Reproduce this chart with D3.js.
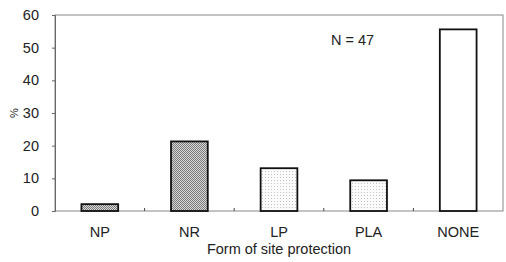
<!DOCTYPE html>
<html>
<head>
<meta charset="UTF-8">
<script src="https://d3js.org/d3.v7.min.js"></script>
<style>
  body { margin: 0; background: #fff; }
  text { font-family: "Liberation Sans", Arial, sans-serif; fill: #222; }
</style>
</head>
<body>
<div id="chart"></div>
<script>
var categories = ["NP", "NR", "LP", "PLA", "NONE"];
var values = [2.1, 21.3, 13.1, 9.4, 55.6];
var fills = ["dark", "dark", "light", "light", "white"];
var yTicks = [0, 10, 20, 30, 40, 50, 60];

var width = 506, height = 262;
var margin = {top: 15, right: 3, bottom: 51, left: 55};
var w = width - margin.left - margin.right,
    h = height - margin.top - margin.bottom;

var svg = d3.select("#chart").append("svg")
    .attr("width", width)
    .attr("height", height);

// fill patterns: checkerboard for dark, sparse dots for light
var defs = svg.append("defs");
var dark = defs.append("pattern").attr("id", "dark")
    .attr("patternUnits", "userSpaceOnUse").attr("width", 2).attr("height", 2);
dark.append("rect").attr("width", 2).attr("height", 2).attr("fill", "#d8d8d8");
dark.append("rect").attr("width", 1).attr("height", 1).attr("fill", "#7a7a7a");
dark.append("rect").attr("x", 1).attr("y", 1).attr("width", 1).attr("height", 1).attr("fill", "#7a7a7a");

var light = defs.append("pattern").attr("id", "light")
    .attr("patternUnits", "userSpaceOnUse").attr("width", 3).attr("height", 3);
light.append("rect").attr("width", 3).attr("height", 3).attr("fill", "#fbfbfb");
light.append("rect").attr("width", 1).attr("height", 1).attr("fill", "#c4c4c4");

var g = svg.append("g").attr("transform", "translate(" + margin.left + "," + margin.top + ")");

var x = d3.scaleBand().domain(categories).range([0, w]).paddingInner(0.59).paddingOuter(0.295);
var xb = d3.scaleBand().domain(categories).range([0, w]);
var y = d3.scaleLinear().domain([0, 60]).range([h, 0]);

// frame
g.append("rect").attr("width", w).attr("height", h)
    .attr("fill", "none").attr("stroke", "#888").attr("stroke-width", 1);

// y axis
var yAxis = g.append("g").call(d3.axisLeft(y).tickValues(yTicks).tickSize(3).tickPadding(13));
yAxis.select(".domain").attr("stroke", "#666");
yAxis.selectAll(".tick line").attr("stroke", "#666");
yAxis.selectAll("text").style("font-size", "14.5px").attr("fill", "#222");

// x category ticks between bands, pointing inward
g.selectAll(".xtick").data(categories.slice(1)).enter().append("line")
    .attr("x1", d => xb(d)).attr("x2", d => xb(d))
    .attr("y1", h).attr("y2", h - 3)
    .attr("stroke", "#444");

// bars
g.selectAll(".bar").data(values).enter().append("rect")
    .attr("x", (d, i) => x(categories[i]))
    .attr("y", d => y(d))
    .attr("width", x.bandwidth())
    .attr("height", d => h - y(d))
    .attr("fill", (d, i) => fills[i] == "white" ? "#fff" : "url(#" + fills[i] + ")")
    .attr("stroke", "#111")
    .attr("stroke-width", 1.8);

// category labels
g.selectAll(".cat").data(categories).enter().append("text")
    .attr("x", d => xb(d) + xb.bandwidth() / 2)
    .attr("y", h + 26)
    .attr("text-anchor", "middle")
    .style("font-size", "14.5px")
    .text(d => d);

// axis titles
svg.append("text")
    .attr("x", 279)
    .attr("y", 254)
    .attr("text-anchor", "middle")
    .style("font-size", "14.5px")
    .text("Form of site protection");

svg.append("text")
    .attr("transform", "translate(18,113) rotate(-90)")
    .attr("text-anchor", "middle")
    .style("font-size", "11px")
    .text("%");

svg.append("text")
    .attr("x", 331).attr("y", 45)
    .style("font-size", "14.5px")
    .text("N = 47");
</script>
</body>
</html>
